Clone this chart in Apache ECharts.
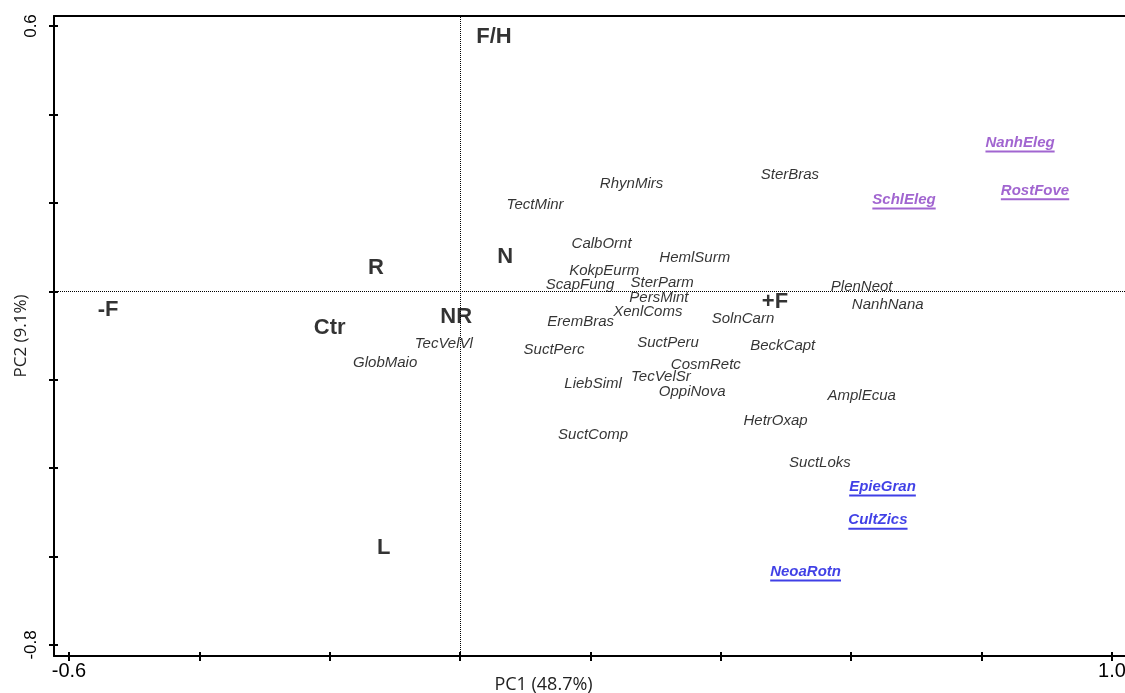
<!DOCTYPE html>
<html>
<head>
<meta charset="utf-8">
<script src="https://cdn.jsdelivr.net/npm/echarts@6/dist/echarts.min.js"></script>
<style>
  html, body { margin: 0; padding: 0; background: #fff; }
  #main { width: 1125px; height: 693px; }
</style>
</head>
<body>
<div id="main"></div>
<script>
// species scores (black italic)
var sppNames = ['RhynMirs', 'SterBras', 'TectMinr', 'CalbOrnt', 'HemlSurm', 'KokpEurm', 'ScapFung', 'SterParm',
  'PersMint', 'PlenNeot', 'NanhNana', 'XenlComs', 'EremBras', 'SolnCarn', 'TecVelVl', 'SuctPerc', 'SuctPeru',
  'BeckCapt', 'GlobMaio', 'CosmRetc', 'TecVelSr', 'LiebSiml', 'OppiNova', 'AmplEcua', 'HetrOxap', 'SuctComp', 'SuctLoks']
var sppPC1 = [0.263, 0.506, 0.115, 0.217, 0.360, 0.221, 0.184, 0.310,
  0.305, 0.616, 0.656, 0.288, 0.185, 0.434, -0.025, 0.144, 0.319,
  0.495, -0.115, 0.377, 0.308, 0.204, 0.356, 0.616, 0.484, 0.204, 0.552]
var sppPC2 = [0.243, 0.263, 0.195, 0.107, 0.075, 0.046, 0.014, 0.019,
  -0.015, 0.010, -0.031, -0.047, -0.069, -0.063, -0.119, -0.133, -0.117,
  -0.124, -0.162, -0.167, -0.194, -0.210, -0.228, -0.237, -0.293, -0.325, -0.388]

// treatment centroids (bold)
var envNames = ['F/H', 'N', 'R', '-F', 'Ctr', 'NR', '+F', 'L']
var envPC1 = [0.052, 0.069, -0.129, -0.540, -0.200, -0.006, 0.483, -0.117]
var envPC2 = [0.576, 0.078, 0.053, -0.042, -0.083, -0.058, -0.024, -0.580]

// highlighted species (purple)
var purpleNames = ['NanhEleg', 'RostFove', 'SchlEleg']
var purplePC1 = [0.859, 0.882, 0.681]
var purplePC2 = [0.333, 0.225, 0.204]

// highlighted species (blue)
var blueNames = ['EpieGran', 'CultZics', 'NeoaRotn']
var bluePC1 = [0.648, 0.641, 0.530]
var bluePC2 = [-0.445, -0.520, -0.637]

var xTicks = [-0.6, -0.4, -0.2, 0, 0.2, 0.4, 0.6, 0.8, 1.0]
var yTicks = [-0.8, -0.6, -0.4, -0.2, 0, 0.2, 0.4, 0.6]
var xLabels = [-0.6, 1.0]
var yLabels = [-0.8, 0.6]

var FONT = 'Liberation Sans'
var ctx = document.createElement('canvas').getContext('2d')
function textWidth (s, font) {
  ctx.font = font
  return ctx.measureText(s).width
}

function plain (names, xs, ys) {
  return names.map(function (n, i) { return { name: n, value: [xs[i], ys[i]] } })
}

// underlined labels: text line + thin bar of the same width
function underlined (names, xs, ys, color) {
  return names.map(function (n, i) {
    var w = textWidth(n, 'italic bold 15px ' + FONT)
    return {
      name: n,
      value: [xs[i], ys[i]],
      label: {
        formatter: '{t|' + n + '}\n{u|}',
        rich: {
          t: { color: color, fontSize: 15, fontStyle: 'italic', fontWeight: 'bold', fontFamily: FONT, lineHeight: 15 },
          u: { width: w, height: 2, lineHeight: 2, backgroundColor: color }
        }
      }
    }
  })
}

var myChart = echarts.init(document.getElementById('main'))

function labelSeries (data, label) {
  return {
    type: 'scatter',
    symbolSize: 1,
    itemStyle: { color: 'transparent' },
    label: Object.assign({ show: true, position: 'inside', formatter: '{b}' }, label),
    emphasis: { disabled: true },
    data: data
  }
}

var option = {
  backgroundColor: '#fff',
  animation: false,
  grid: { left: 54, right: 0, top: 16, bottom: 37, containLabel: false, outerBoundsMode: 'none' },
  xAxis: [{
    type: 'value',
    min: -0.623,
    max: 1.02,
    position: 'bottom',
    name: 'PC1 (48.7%)',
    nameLocation: 'middle',
    nameGap: 20,
    nameMoveOverlap: false,
    nameTextStyle: { fontSize: 18, color: '#222', fontFamily: 'Open Sans', padding: [0, 92, 0, 0] },
    splitLine: { show: false },
    axisLine: { onZero: false, lineStyle: { color: '#000', width: 2 } },
    axisTick: { show: true, customValues: xTicks, length: 5, lineStyle: { color: '#000', width: 2 } },
    axisLabel: {
      customValues: xLabels,
      fontSize: 20, color: '#000', fontFamily: FONT, margin: 5,
      formatter: function (v) { return v.toFixed(1) }
    }
  }, {
    type: 'value',
    min: -0.623,
    max: 1.02,
    position: 'bottom',
    splitLine: { show: false },
    axisLine: { show: false, onZero: false },
    axisTick: { show: true, inside: true, customValues: xTicks, length: 4, lineStyle: { color: '#000', width: 2 } },
    axisLabel: { show: false }
  }, {
    type: 'value',
    min: -0.623,
    max: 1.02,
    position: 'top',
    splitLine: { show: false },
    axisLine: { onZero: false, lineStyle: { color: '#000', width: 2 } },
    axisTick: { show: false },
    axisLabel: { show: false }
  }],
  yAxis: [{
    type: 'value',
    min: -0.825,
    max: 0.6226,
    position: 'left',
    name: 'PC2 (9.1%)',
    nameLocation: 'middle',
    nameGap: 24,
    nameMoveOverlap: false,
    nameTextStyle: { fontSize: 17, color: '#222', fontFamily: 'Open Sans' },
    splitLine: { show: false },
    axisLine: { onZero: false, lineStyle: { color: '#000', width: 2 } },
    axisTick: { show: true, customValues: yTicks, length: 5, lineStyle: { color: '#000', width: 2 } },
    axisLabel: {
      customValues: yLabels,
      rotate: 90,
      fontSize: 17, color: '#000', fontFamily: FONT, margin: 14,
      formatter: function (v) { return v.toFixed(1) }
    }
  }, {
    type: 'value',
    min: -0.825,
    max: 0.6226,
    position: 'left',
    splitLine: { show: false },
    axisLine: { show: false, onZero: false },
    axisTick: { show: true, inside: true, customValues: yTicks, length: 4, lineStyle: { color: '#000', width: 2 } },
    axisLabel: { show: false }
  }],
  series: [
    Object.assign(labelSeries(plain(sppNames, sppPC1, sppPC2), {
      fontSize: 15, fontStyle: 'italic', color: '#000', fontFamily: FONT
    }), {
      markLine: {
        silent: true,
        symbol: 'none',
        label: { show: false },
        lineStyle: { type: 'dotted', color: '#000', width: 1 },
        data: [{ xAxis: 0 }, { yAxis: 0 }]
      }
    }),
    labelSeries(plain(envNames, envPC1, envPC2), {
      fontSize: 22, fontWeight: 'bold', color: '#000', fontFamily: FONT
    }),
    labelSeries(underlined(purpleNames, purplePC1, purplePC2, '#8a3fc4'), {}),
    labelSeries(underlined(blueNames, bluePC1, bluePC2, '#1010e0'), {})
  ]
}

myChart.setOption(option, true)
</script>
</body>
</html>
